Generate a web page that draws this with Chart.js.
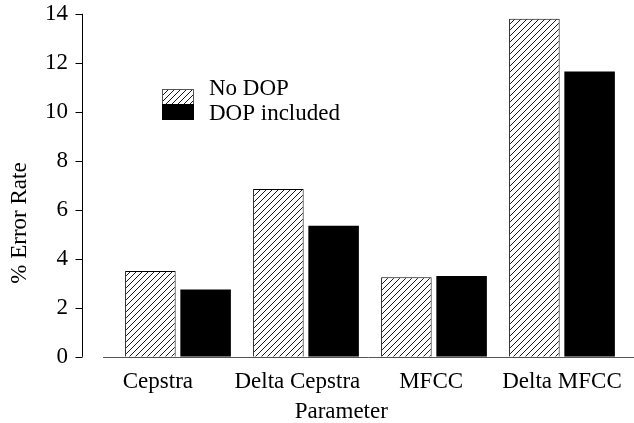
<!DOCTYPE html>
<html>
<head>
<meta charset="utf-8">
<script src="https://cdn.jsdelivr.net/npm/chart.js@4/dist/chart.umd.min.js"></script>
<style>
  body { margin: 0; background: #fff; }
  canvas { display: block; }
</style>
</head>
<body>
<canvas id="myChart" width="634" height="423"></canvas>
<script>
const categories = ["Cepstra", "Delta Cepstra", "MFCC", "Delta MFCC"];
const noDop = [3.5, 6.85, 3.25, 13.8];
const dopIncluded = [2.75, 5.35, 3.3, 11.65];
const seriesNames = ["No DOP", "DOP included"];
const yMin = 0;
const yMax = 14;
const yStep = 2;

const FONT = "'Liberation Serif', 'Times New Roman', serif";

// the original labels sit a little left of their groups; trailing spaces nudge them
const labelNudge = [7, 3, 1, 0];
const titleNudge = 10;

const canvas = document.getElementById("myChart");
const ctx = canvas.getContext("2d");

// diagonal hatch for the "No DOP" bars
function makeHatch() {
  const c = document.createElement("canvas");
  c.width = 6;
  c.height = 6;
  const g = c.getContext("2d");
  g.fillStyle = "#fff";
  g.fillRect(0, 0, 6, 6);
  g.strokeStyle = "#000";
  g.lineWidth = 0.9;
  g.beginPath();
  g.moveTo(0, 6); g.lineTo(6, 0);
  g.moveTo(-1, 1); g.lineTo(1, -1);
  g.moveTo(5, 7); g.lineTo(7, 5);
  g.stroke();
  return ctx.createPattern(c, "repeat");
}
const hatch = makeHatch();

// y axis sits apart from the plot, plus the baseline, legend and y title
const decorations = {
  id: "decorations",
  afterDraw(chart) {
    const c = chart.ctx;
    const area = chart.chartArea;
    const y = chart.scales.y;
    const axisX = area.left - 31.5;

    c.save();
    c.strokeStyle = "#000";
    c.lineWidth = 1;
    c.beginPath();
    c.moveTo(axisX, y.getPixelForValue(yMin));
    c.lineTo(axisX, y.getPixelForValue(yMax));
    y.ticks.forEach((t) => {
      const py = Math.round(y.getPixelForValue(t.value)) + 0.5;
      c.moveTo(axisX - 7, py);
      c.lineTo(axisX, py);
    });
    c.stroke();

    // baseline
    c.strokeStyle = "#555";
    c.beginPath();
    const by = Math.round(y.getPixelForValue(0)) + 0.5;
    c.moveTo(area.left - 11, by);
    c.lineTo(chart.width, by);
    c.stroke();

    // legend
    const lx = 162, ly = 89;
    c.fillStyle = hatch;
    c.fillRect(lx, ly, 32, 15);
    c.strokeRect(lx + 0.5, ly + 0.5, 31, 15);
    c.fillStyle = "#000";
    c.fillRect(lx, ly + 15, 32, 16);
    c.font = "23px " + FONT;
    c.textBaseline = "middle";
    c.textAlign = "left";
    c.fillText(chart.data.datasets[0].label, 209, ly);
    c.fillText(chart.data.datasets[1].label, 209, ly + 25);

    // y title
    c.translate(20, 223);
    c.rotate(-Math.PI / 2);
    c.textAlign = "center";
    c.fillText("% Error Rate", 0, 0);
    c.restore();
  },
};

new Chart(canvas, {
  type: "bar",
  data: {
    labels: categories,
    datasets: [
      {
        label: seriesNames[0],
        data: noDop,
        backgroundColor: hatch,
        borderColor: "#000",
        borderWidth: 1,
        borderSkipped: "bottom",
      },
      {
        label: seriesNames[1],
        data: dopIncluded,
        backgroundColor: "#000",
        borderColor: "#000",
        borderWidth: 0,
      },
    ],
  },
  options: {
    responsive: false,
    animation: false,
    categoryPercentage: 0.863,
    barPercentage: 0.915,
    layout: { padding: { top: 0, right: 8, bottom: 0, left: 0 } },
    plugins: {
      legend: { display: false },
      tooltip: { enabled: false },
    },
    scales: {
      x: {
        grid: { display: false, drawTicks: false },
        border: { display: false },
        ticks: {
          color: "#000",
          padding: 11,
          autoSkip: false,
          maxRotation: 0,
          minRotation: 0,
          font: { family: FONT, size: 23 },
          callback: function (value, index) {
            return this.getLabelForValue(value) + " ".repeat(labelNudge[index] || 0);
          },
        },
        title: {
          display: true,
          text: "Parameter" + " ".repeat(titleNudge),
          color: "#000",
          padding: { top: -8, bottom: -3 },
          font: { family: FONT, size: 23 },
        },
      },
      y: {
        min: yMin,
        max: yMax,
        grid: { display: false, drawTicks: true, tickLength: 46 },
        border: { display: false },
        ticks: {
          stepSize: yStep,
          color: "#000",
          padding: 0,
          font: { family: FONT, size: 23 },
        },
        afterFit(scale) {
          scale.width = 114;
        },
      },
    },
  },
  plugins: [decorations],
});
</script>
</body>
</html>
